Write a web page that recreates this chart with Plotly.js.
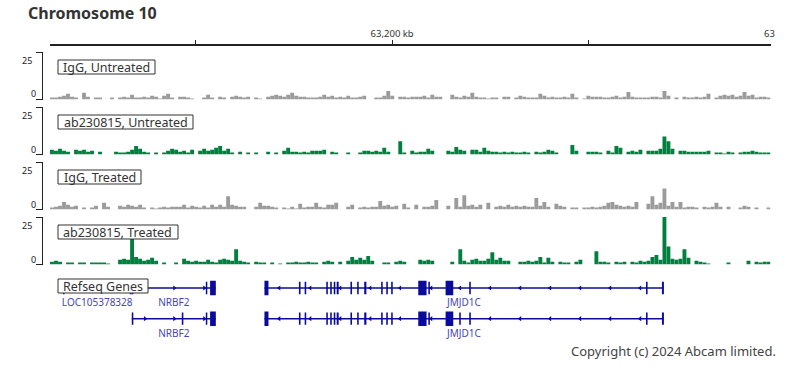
<!DOCTYPE html>
<html><head><meta charset="utf-8">
<script src="https://cdn.plot.ly/plotly-3.0.1.min.js"></script>
<style>html,body{margin:0;padding:0;background:#fff}</style>
</head><body><div id="chart" style="width:794px;height:378px"></div>
<script>
// ---------- DATA ----------
const chartTitle = 'Chromosome 10';
const trackNames = ['IgG, Untreated', 'ab230815, Untreated', 'IgG, Treated', 'ab230815, Treated'];
const binStartKb = 63113;     // genomic start of first bin (kb)
const binSizeKb = 1.0178;     // bin width (kb)
const tickKb = [63150, 63200, 63250];
const tickLabels = ['', '63,200 kb', ''];

const iggUntreated = [
 1,1,1.5,2,3,1.5,1,0,3.5,1.5, 0,1,1,0,0,1,0,1,1.5,1, 2.5,1,1,1.5,1,2,1.5,0.5,2,3,
 1,0,1.5,1.5,1,0.5,0,0,1,2.5, 1,0,1.5,1,0,1.5,2,1.5,1,1.5, 0,1,0.5,0,1.5,2,2.5,2,1.5,2.5,
 3.5,2,1.5,1.5,1,1,1,1.5,2.5,1.5, 2,1,1.5,1,2,1,1,1.5,2,0, 0,1,1,2,4.5,2,0,1.5,1.5,1,
 1.5,1.5,1.5,2,1,2.5,1.5,1.5,0,0, 2.5,1.5,1,2,1.5,3.5,1.5,1,1,0.5, 1,1,0,1.5,1.5,0,1,2,1.5,1,
 1,1,3,2,1,1.5,1,1,1.5,1, 3,1,0,0.5,2,1.5,1.5,1.5,1,1, 1.5,2,1,1.5,4,1.5,1,1,1,1,
 1.5,1.5,1,4.5,2,0,1,0,1.5,1, 1,1.5,1,1.5,3,0,1,2,2.5,2, 2.5,1.5,2,4,2,2.5,1,1.5,1.5,1
];
const abUntreated = [
 2.5,2,3,2,1.5,0,2.5,2,2.5,1.5, 2,0,1.5,0,0,0,1.5,1,1,1.5, 2.5,4.5,3,1.5,1,0,1,0,1,2,
 3,2.5,1.5,2,1,2.5,0,2,3,2, 2.5,3.5,4.5,2,3,1,0,1.5,0,1, 0,1,0,0,1.5,0,1,0,2,3.5,
 1.5,1.5,1,1.5,1,2,2,2,2.5,0, 1.5,1,0,0,1,0,0,1,2,2, 1.5,2,1.5,3.5,1.5,0,0,7,1,0,
 2,1,1.5,1.5,3,2,0,0,0,2, 1.5,4,2.5,2,0,2.5,2.5,1.5,3.5,2, 1.5,1.5,1,1.5,1,1.5,1,1,1.5,1,
 0,1.5,1,1.5,2.5,2,1,0,0,0, 5,2,0,0,1.5,1.5,1.5,1,0,2, 1,4.5,3.5,0,1.5,2,1.5,2.5,0,2,
 2,2,3,9.5,7,3,0,2,2,1.5, 1.5,1.5,1.5,1.5,2,0,1,1,0.5,1.5, 1,0,1,1.5,1.5,2,1.5,1,1,1
];
const iggTreated = [
 1,1.5,2,4,2.5,1.5,2,0,1,0, 1,2,0,3.5,1.5,0,0,2,1.5,2.5, 2,1.5,2.5,1,0,1,0.5,1,1.5,1,
 1.5,1.5,1.5,2.5,1,2,1.5,1,2,1, 2.5,1.5,2.5,1.5,7,2.5,2,1.5,1.5,0, 0,1.5,3.5,2,2,1.5,1,0,1,0.5,
 1.5,0.5,3,1,1.5,1.5,3.5,1.5,1,2.5, 2.5,3.5,0,0,1.5,2.5,0,1,1.5,1, 1.5,1.5,4.5,2,2.5,1.5,2,0,3,1,
 0,2.5,0,1.5,1.5,2,5,0,0,2, 0,6,1.5,7.5,2,2.5,1.5,2.5,0,3.5, 0,1.5,2,1.5,2.5,1.5,2,1.5,2,1.5,
 1.5,6,2,4,1.5,0,3,2,1.5,0, 1,1,0,1,1,1.5,1,1.5,2,3.5, 4,2.5,2,1.5,2,1.5,4,0,0,3,
 7,2.5,3.5,11,2,4,1.5,4,1,1.5, 1.5,1,0,1.5,1,1.5,3.5,1.5,0,1.5, 0,0,1,2,1.5,0,1,0,0,1
];
const abTreated = [
 1.5,2,1.5,0,1,1,0,1,1,0, 1,1,1,1,0.5,0,0,2.5,3,2.5, 14,4,3,2,2.5,3.5,2,0,1,0,
 0,1,0,3,2,1.5,2,1.5,1.5,2.5, 1.5,1,2.5,3,2.5,2,8,2,1.5,1, 0,1.5,1,1,0,1,0,0.5,0,1,
 1,1.5,1,1,1.5,1,1,0,1.5,2, 1.5,0,1.5,0,2,4,2.5,3.5,2.5,4.5, 2,0,0,1,1,0,1.5,2,1.5,0,
 0,0,2.5,2,2.5,2,0,0,0,0, 1.5,0,8,2,1,2.5,3,2,2,3, 6.5,2.5,3.5,2,2,0,0,1.5,1.5,2,
 1.5,2,4,1,3.5,1.5,0,1.5,1,1, 0,1.5,2.5,0,0,0,7,1.5,1.5,1, 0,1.5,1,1.5,0,1.5,1,2,1.5,2,
 4,5,2.5,25,9.5,3,2.5,3,8,3.5, 0,2,1.5,1,0.5,0,0,0,0,1, 0,0,0,0,2,0,1.5,1,1.5,1.5
];
const trackValues = [iggUntreated, abUntreated, iggTreated, abTreated];
const trackColors = ['#9b9b9b', '#00803f', '#9b9b9b', '#00803f'];
const trackMax = 25;

// Refseq genes (kb)
const geneNames  = ['LOC105378328', 'NRBF2', 'JMJD1C', 'NRBF2', 'JMJD1C'];
const geneRows   = [0, 0, 0, 1, 1];
const geneStarts = [63116.3, 63133.79, 63167.53, 63133.79, 63167.53];
const geneEnds   = [63133.7, 63155.16, 63268.98, 63155.16, 63268.98];
const geneStrand = ['+', '+', '-', '+', '-'];
const exonStarts = [
 [63116.3, 63133.3],
 [63133.79, 63152.62, 63153.71],
 [63167.53, 63176.3, 63177.75, 63183.25, 63184.25, 63185.15, 63185.9, 63189.4, 63191.1, 63192.9, 63197.2, 63198.5, 63199.75, 63206.64, 63209.2, 63213.59, 63219.6, 63264.55, 63268.6],
 [63133.79, 63146.51, 63152.62, 63153.71],
 [63167.53, 63176.3, 63177.75, 63183.25, 63184.25, 63185.15, 63185.9, 63189.4, 63191.1, 63192.9, 63197.2, 63198.5, 63199.75, 63206.64, 63209.2, 63213.59, 63217.05, 63219.6, 63264.55, 63268.6]
];
const exonEnds = [
 [63116.7, 63133.7],
 [63134.19, 63153.0, 63155.16],
 [63168.55, 63176.7, 63178.15, 63183.65, 63184.65, 63185.55, 63186.4, 63189.8, 63191.5, 63193.45, 63197.6, 63198.9, 63200.15, 63208.75, 63209.6, 63215.54, 63220.0, 63264.95, 63269.1],
 [63134.19, 63146.91, 63153.0, 63155.16],
 [63168.55, 63176.7, 63178.15, 63183.65, 63184.65, 63185.55, 63186.4, 63189.8, 63191.5, 63193.45, 63197.6, 63198.9, 63200.15, 63208.75, 63209.6, 63215.54, 63217.45, 63220.0, 63264.95, 63269.1]
];
const strandMarks = [
 [],
 [63137.17, 63144.63, 63152.26],
 [63171.27, 63179.16, 63186.79, 63194.42, 63201.98, 63209.9, 63217.25, 63224.88, 63232.52, 63240.15, 63247.78, 63255.42, 63263.05],
 [63137.17, 63144.63, 63152.26],
 [63171.27, 63179.16, 63186.79, 63194.42, 63201.98, 63209.9, 63224.88, 63232.52, 63240.15, 63247.78, 63255.42, 63263.05]
];
const copyright = 'Copyright (c) 2024 Abcam limited.';

// ---------- LAYOUT HELPERS ----------
const W = 794, H = 378;
const FONT = 'Noto Sans, sans-serif';
const px = x => x / W;
const py = y => 1 - y / H;
const xDom = [px(50), px(770.5)];
const trackTop = i => 52 + 55 * i;
const trackH = 47.5;
const nBins = iggUntreated.length;
const xRange = [binStartKb, binStartKb + nBins * binSizeKb];
const binCenters = iggUntreated.map((_, i) => binStartKb + (i + 0.5) * binSizeKb);

const traces = [];
const layout = {
  width: W, height: H,
  margin: {l: 0, r: 0, t: 0, b: 0},
  paper_bgcolor: '#fff', plot_bgcolor: 'rgba(0,0,0,0)',
  showlegend: false, barmode: 'overlay',
  font: {family: FONT, color: '#333'},
  annotations: [], shapes: []
};

trackValues.forEach((vals, i) => {
  const n = i + 1;
  const xa = n === 1 ? 'xaxis' : 'xaxis' + n;
  const ya = n === 1 ? 'yaxis' : 'yaxis' + n;
  traces.push({
    type: 'bar', x: binCenters, y: vals, width: binSizeKb * 0.97,
    marker: {color: trackColors[i], line: {width: 0}},
    xaxis: 'x' + (n === 1 ? '' : n), yaxis: 'y' + (n === 1 ? '' : n),
    hoverinfo: 'skip'
  });
  const top = trackTop(i), bot = top + trackH;
  if (n === 1) {
    layout[xa] = {
      domain: xDom, range: xRange, anchor: 'free', position: py(44.3), side: 'top',
      showline: true, linecolor: '#222', linewidth: 1.3, ticks: 'outside', ticklen: 4,
      tickcolor: '#222', tickwidth: 1, tickvals: tickKb, ticktext: tickLabels,
      tickfont: {size: 9.5, color: '#333', family: FONT}, showgrid: false, zeroline: false,
      fixedrange: true
    };
  } else {
    layout[xa] = {domain: xDom, matches: 'x', visible: false, anchor: 'y' + n};
  }
  layout[ya] = {
    domain: [py(bot), py(top)], range: [0, trackMax], anchor: 'free', position: px(42),
    showline: true, linecolor: '#222', linewidth: 1, ticks: 'outside', ticklen: 6,
    tickcolor: '#222', tickwidth: 1, tickvals: [0, trackMax], showticklabels: false,
    showgrid: false, zeroline: false, fixedrange: true
  };
  layout.annotations.push(
    {text: String(trackMax), xref: 'paper', yref: 'paper', x: px(33.5), y: py(top + 8.5),
     xanchor: 'right', yanchor: 'middle', showarrow: false, font: {size: 9, color: '#222'}},
    {text: '0', xref: 'paper', yref: 'paper', x: px(37.5), y: py(bot - 5.5),
     xanchor: 'right', yanchor: 'middle', showarrow: false, font: {size: 9, color: '#222'}}
  );
});

// label boxes
const boxes = [
  {text: trackNames[0], x0: 58, x1: 155, y0: 60, y1: 74},
  {text: trackNames[1], x0: 58, x1: 193, y0: 115, y1: 129},
  {text: trackNames[2], x0: 58, x1: 141, y0: 170, y1: 184},
  {text: trackNames[3], x0: 58, x1: 178, y0: 225, y1: 239},
  {text: 'Refseq Genes', x0: 58, x1: 148, y0: 279, y1: 293}
];
boxes.forEach(b => {
  layout.shapes.push({type: 'rect', xref: 'paper', yref: 'paper', x0: px(b.x0), x1: px(b.x1),
    y0: py(b.y1), y1: py(b.y0), fillcolor: '#fff', line: {color: '#333', width: 1}, layer: 'above'});
  layout.annotations.push({text: b.text, xref: 'paper', yref: 'paper', x: px((b.x0 + b.x1) / 2),
    y: py((b.y0 + b.y1) / 2 + 0.5), xanchor: 'center', yanchor: 'middle', showarrow: false,
    font: {size: 12.5, color: '#333', family: FONT}});
});

// gene track
const geneColor = '#0b0b9a';
layout.xaxis5 = {domain: xDom, matches: 'x', visible: false, anchor: 'y5'};
layout.yaxis5 = {domain: [py(340), py(276)], range: [1.694, -0.391], visible: false, anchor: 'x5', fixedrange: true};
const lx = [], ly = [];
geneNames.forEach((g, i) => { lx.push(geneStarts[i], geneEnds[i], null); ly.push(geneRows[i], geneRows[i], null); });
traces.push({type: 'scatter', mode: 'lines', x: lx, y: ly, xaxis: 'x5', yaxis: 'y5',
  line: {color: geneColor, width: 1.6}, hoverinfo: 'skip', connectgaps: false});
const ex = [], ey = [], eb = [], ew = [];
exonStarts.forEach((arr, g) => arr.forEach((s, j) => {
  const len = exonEnds[g][j] - s;
  eb.push(s); ex.push(len); ey.push(geneRows[g]); ew.push(len > 1 ? 0.47 : 0.40);
}));
traces.push({type: 'bar', orientation: 'h', base: eb, x: ex, y: ey, width: ew,
  xaxis: 'x5', yaxis: 'y5', marker: {color: geneColor, line: {width: 0}}, hoverinfo: 'skip'});
['+', '-'].forEach(st => {
  const mx = [], my = [];
  strandMarks.forEach((arr, g) => { if (geneStrand[g] === st) arr.forEach(v => { mx.push(v); my.push(geneRows[g]); }); });
  traces.push({type: 'scatter', mode: 'markers', x: mx, y: my, xaxis: 'x5', yaxis: 'y5',
    marker: {symbol: st === '+' ? 'triangle-right' : 'triangle-left', size: 4.5, color: geneColor, line: {width: 0}},
    hoverinfo: 'skip'});
});
traces.push({type: 'scatter', mode: 'text', xaxis: 'x5', yaxis: 'y5',
  x: geneNames.map((_, i) => (geneStarts[i] + geneEnds[i]) / 2),
  y: geneRows.map(r => r + 0.5), text: geneNames, cliponaxis: false,
  textfont: {size: 10, color: '#4646b4', family: FONT}, hoverinfo: 'skip'});

// title, cut-off tick label, copyright
layout.annotations.push(
  {text: '<b>' + chartTitle + '</b>', xref: 'paper', yref: 'paper', x: px(26), y: py(13.5),
   xanchor: 'left', yanchor: 'middle', showarrow: false, font: {size: 16, color: '#333', family: FONT}},
  {text: '63', xref: 'paper', yref: 'paper', x: px(761.5), y: py(33), xanchor: 'left', yanchor: 'middle',
   showarrow: false, font: {size: 9.5, color: '#333', family: FONT}},
  {text: copyright, xref: 'paper', yref: 'paper', x: px(777.5), y: py(351), xanchor: 'right', yanchor: 'middle',
   showarrow: false, font: {size: 13, color: '#444', family: FONT}}
);

Plotly.newPlot('chart', traces, layout, {staticPlot: true, displayModeBar: false});
</script>
</body></html>
